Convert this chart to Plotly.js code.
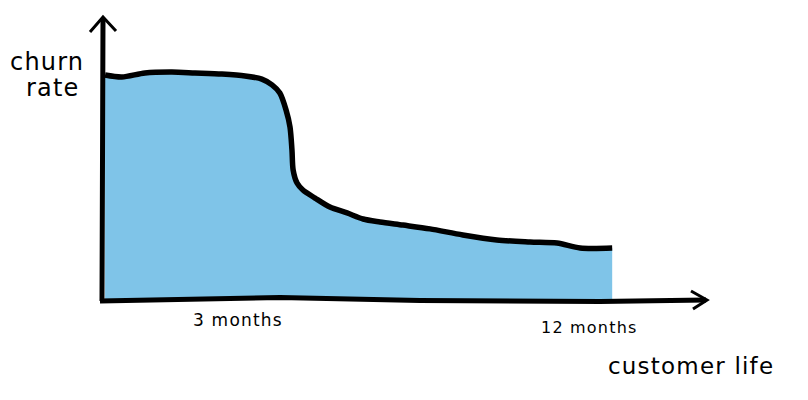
<!DOCTYPE html>
<html>
<head>
<meta charset="utf-8">
<script src="https://cdn.plot.ly/plotly-3.0.1.min.js"></script>
<style>
html,body{margin:0;padding:0;background:#fff;}
#chart{width:808px;height:400px;}
.annotation-text{letter-spacing:1.2px;}
</style>
</head>
<body>
<div id="chart"></div>
<script>
// customer life (months) and churn rate (relative, start = 100)
const months = [-0.40, 0.03, 0.62, 1.31, 1.90, 2.59, 3.18, 3.61, 3.87, 4.07, 4.23, 4.33, 4.38, 4.41, 4.51, 4.66, 4.97, 5.35, 5.79, 6.20, 6.63, 7.22, 7.91, 8.75, 9.62, 10.47, 11.16, 11.75, 12.57];
const churnRate = [100, 99.1, 100.9, 101.3, 100.9, 100.4, 99.6, 98.2, 95.6, 92, 84.4, 76.9, 66.7, 57.8, 52, 48.9, 45.3, 41.3, 38.7, 36, 34.7, 33.3, 31.6, 28.9, 26.7, 25.8, 25.3, 23.1, 23.1];
const tickMonths = [3, 12];
const tickLabels = ["3 months", "12 months"];
const yTitleLines = ["churn", "rate"];
const xTitle = "customer life";

const FONT = "DejaVu Sans, sans-serif";
const W = 808, H = 400;
// axis ranges (full-figure plot area)
const xr = [-3.087, 17.578];
const yr = [-44.44, 133.33];
const px2x = p => xr[0] + (xr[1] - xr[0]) * p / W;
const py2y = p => yr[1] - (yr[1] - yr[0]) * p / H;

const trace = {
  x: months, y: churnRate, type: 'scatter', mode: 'lines',
  line: {color: '#000', width: 5.5, shape: 'spline', smoothing: 0.8},
  fill: 'tozeroy', fillcolor: '#7fc4e8', hoverinfo: 'skip'
};

const shapes = [
  // y axis
  {type: 'path', xref: 'x', yref: 'y', layer: 'above',
   path: `M ${px2x(102)},${py2y(301)} L ${px2x(102.5)},${py2y(160)} L ${px2x(103)},${py2y(18)}`,
   line: {color: '#000', width: 5}},
  {type: 'path', xref: 'x', yref: 'y', layer: 'above',
   path: `M ${px2x(90)},${py2y(32)} L ${px2x(103)},${py2y(17)} L ${px2x(116)},${py2y(31)}`,
   line: {color: '#000', width: 3}},
  // x axis
  {type: 'path', xref: 'x', yref: 'y', layer: 'above',
   path: `M ${px2x(100)},${py2y(301)} L ${px2x(280)},${py2y(297.5)} L ${px2x(420)},${py2y(300.5)} L ${px2x(600)},${py2y(301.5)} L ${px2x(706)},${py2y(300)}`,
   line: {color: '#000', width: 5}},
  {type: 'path', xref: 'x', yref: 'y', layer: 'above',
   path: `M ${px2x(691)},${py2y(291)} L ${px2x(707)},${py2y(300)} L ${px2x(693)},${py2y(309)}`,
   line: {color: '#000', width: 3}}
];

function lab(xref, x, py, text, size) {
  return {xref: xref, yref: 'paper', x: x, y: 1 - py / H, text: text, showarrow: false,
    xanchor: 'center', yanchor: 'middle',
    font: {family: FONT, size: size, color: '#000'}};
}

const annotations = [
  lab('x', tickMonths[0], 320, tickLabels[0], 17),
  lab('x', tickMonths[1], 327, tickLabels[1], 16),
  lab('paper', 47 / W, 62, yTitleLines[0], 24),
  lab('paper', 53 / W, 88, yTitleLines[1], 24),
  lab('paper', 691 / W, 366, xTitle, 23)
];

const layout = {
  width: W, height: H,
  margin: {l: 0, r: 0, t: 0, b: 0},
  paper_bgcolor: '#fff', plot_bgcolor: '#fff',
  showlegend: false,
  xaxis: {range: xr, visible: false, fixedrange: true},
  yaxis: {range: yr, visible: false, fixedrange: true},
  shapes: shapes,
  annotations: annotations
};

Plotly.newPlot('chart', [trace], layout, {displayModeBar: false, staticPlot: true});
</script>
</body>
</html>
